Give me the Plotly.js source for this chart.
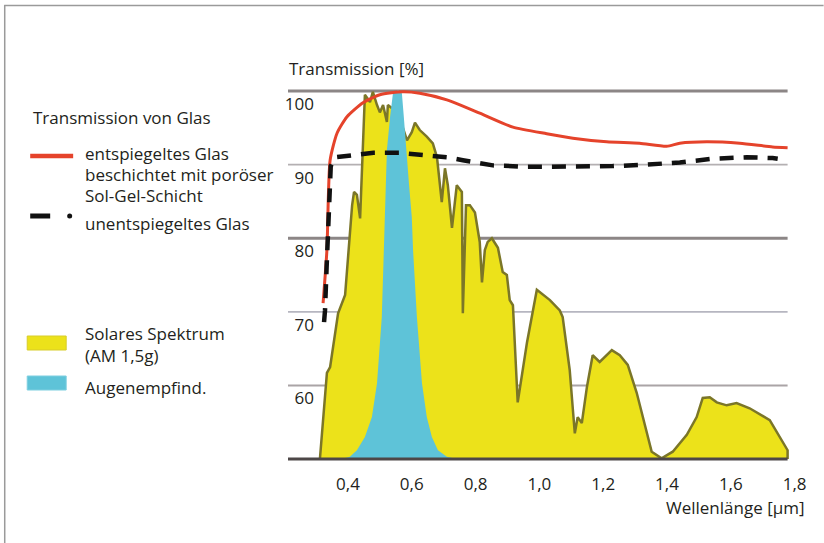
<!DOCTYPE html>
<html>
<head>
<meta charset="utf-8">
<script src="https://cdn.plot.ly/plotly-3.0.1.min.js"></script>
<style>html,body{margin:0;padding:0;background:#fff;}#chart{width:824px;height:543px;}</style>
</head>
<body>
<div id="chart"></div>
<script>
// ---------- data ----------
const solarWavelength = [0.312,0.334,0.344,0.369,0.391,0.397,0.406,0.413,0.419,0.428,0.438,0.447,0.453,0.469,0.478,0.491,0.500,0.510,0.522,0.525,0.557,0.585,0.600,0.610,0.625,0.647,0.666,0.679,0.694,0.704,0.713,0.726,0.741,0.757,0.760,0.770,0.782,0.798,0.813,0.820,0.829,0.838,0.851,0.870,0.885,0.898,0.907,0.917,0.932,0.961,0.992,1.033,1.064,1.073,1.095,1.105,1.111,1.120,1.133,1.149,1.167,1.189,1.227,1.252,1.277,1.305,1.336,1.352,1.383,1.418,1.462,1.493,1.512,1.534,1.556,1.587,1.618,1.659,1.722,1.753,1.778,1.778];
const solarSpectrum   = [50,61.7,62.5,69.8,72.3,75.7,81.8,84.5,86.3,85.9,82.7,91.7,99.5,98.5,99.9,98.1,97.1,98.1,95.8,98.1,97.0,93.3,94.4,95.7,94.7,93.8,92.9,91.0,84.9,89.5,87.2,81.4,87.2,86.3,69.8,84.5,84.5,83.5,79.5,74.0,78.4,79.5,80.0,78.7,75.4,75.0,71.6,70.9,57.7,65.8,73.0,71.6,70.2,69.3,62.1,56.7,53.5,55.7,54.9,59.8,64.1,63.2,64.8,64.1,62.8,59.0,53.5,51.0,50.1,51.0,53.3,55.7,58.3,58.4,57.7,57.3,57.6,56.9,55.3,53.0,51.2,50];

const eyeWavelength = [0.38,0.406,0.428,0.453,0.475,0.491,0.506,0.513,0.516,0.519,0.522,0.532,0.541,0.557,0.569,0.575,0.582,0.591,0.600,0.604,0.616,0.632,0.647,0.663,0.682,0.710,0.74];
const eyeSensitivity = [50,50.3,51.2,53.0,55.7,60.3,69.3,78.4,82.9,87.5,92.0,96.5,99.7,100.1,99.7,96.5,92.0,87.5,82.9,78.4,69.3,60.3,55.7,53.0,51.2,50.3,50];

const arWavelength = [0.322,0.334,0.344,0.366,0.397,0.447,0.500,0.572,0.625,0.710,0.813,0.917,1.023,1.105,1.211,1.314,1.399,1.440,1.524,1.628,1.731,1.778];
const arTransmission = [71.2,78.4,90.6,94.3,96.5,98.4,99.5,99.9,99.7,98.8,97.0,95.1,94.2,93.6,93.1,92.9,92.5,92.9,93.1,92.9,92.4,92.3];

const glassWavelength = [0.325,0.328,0.333,0.340,0.346,0.360,0.400,0.480,0.560,0.620,0.710,0.760,0.854,0.961,1.055,1.158,1.230,1.336,1.440,1.543,1.650,1.731,1.747];
const glassTransmission = [68.6,70.2,76.0,86.0,89.8,91.0,91.2,91.6,91.6,91.4,91.0,90.6,89.9,89.7,89.7,89.7,89.8,90.0,90.3,90.8,91.0,90.9,90.8];

const xTickVals = [0.4,0.6,0.8,1.0,1.2,1.4,1.6,1.8];
const xTickText = ['0,4','0,6','0,8','1,0','1,2','1,4','1,6','1,8'];
const yTickVals = [60,70,80,90,100];
const yTickText = ['60','70','80','90','100'];
const baselineValue = 50;

// ---------- layout helpers ----------
const W = 824, H = 543;
const M = {l:288, r:22.6, t:80, b:81};
const PW = W - M.l - M.r, PH = H - M.t - M.b;
const px = v => (v - M.l) / PW;
const py = v => 1 - (v - M.t) / PH;

const FONT = 'Open Sans, Noto Sans, sans-serif';
const TXT = '#231f20';
const YELLOW = '#ece21a', OLIVE = '#7b7628', BLUE = '#5ec3d8', RED = '#e5432b';

const traces = [
  {x: solarWavelength, y: solarSpectrum, type:'scatter', mode:'lines', fill:'toself',
   fillcolor: YELLOW, line:{color: OLIVE, width:2.5}, hoverinfo:'skip'},
  {x: eyeWavelength, y: eyeSensitivity, type:'scatter', mode:'lines', fill:'toself',
   fillcolor: BLUE, line:{color: BLUE, width:0}, hoverinfo:'skip'},
  {x: arWavelength, y: arTransmission, type:'scatter', mode:'lines',
   line:{color: RED, width:3, shape:'spline', smoothing:0.6}, hoverinfo:'skip'},
  {x: glassWavelength, y: glassTransmission, type:'scatter', mode:'lines',
   line:{color:'#111', width:4.5, dash:'14px,10px'}, hoverinfo:'skip'}
];

const xStart = 0.212, xEnd = 1.778;
const shapes = [];
const gridStyle = {100:{w:3,c:'#8c8686'},90:{w:1.8,c:'#b4b0b2'},80:{w:3,c:'#8c8686'},70:{w:1.8,c:'#b6b6c0'},60:{w:2,c:'#aaa4a6'}};
yTickVals.forEach(v => {
  shapes.push({type:'line', xref:'x', yref:'y', x0:xStart, x1:xEnd, y0:v, y1:v,
    layer:'below', line:{color:gridStyle[v].c, width:gridStyle[v].w}});
});
shapes.push({type:'line', xref:'x', yref:'y', x0:xStart, x1:xEnd, y0:baselineValue, y1:baselineValue,
  layer:'above', line:{color:'#4d4747', width:3}});

// frame
shapes.push({type:'line', xref:'paper', yref:'paper', x0:px(4.5), x1:px(4.5), y0:py(5), y1:py(543), line:{color:'#9a9a9a', width:1.5}});
shapes.push({type:'line', xref:'paper', yref:'paper', x0:px(4), x1:px(824), y0:py(5.5), y1:py(5.5), line:{color:'#9a9a9a', width:1.5}});

// legend symbols
shapes.push({type:'line', xref:'paper', yref:'paper', x0:px(30), x1:px(73), y0:py(156), y1:py(156), line:{color:RED, width:4.5}});
shapes.push({type:'line', xref:'paper', yref:'paper', x0:px(30), x1:px(50), y0:py(216), y1:py(216), line:{color:'#111', width:5}});
shapes.push({type:'circle', xref:'paper', yref:'paper', x0:px(67), x1:px(72), y0:py(213.5), y1:py(218.5), fillcolor:'#111', line:{width:0}});
shapes.push({type:'rect', xref:'paper', yref:'paper', x0:px(27), x1:px(66), y0:py(336), y1:py(350), fillcolor:YELLOW, line:{color:'#d8cd2a', width:1}});
shapes.push({type:'rect', xref:'paper', yref:'paper', x0:px(27), x1:px(66), y0:py(376), y1:py(390), fillcolor:BLUE, line:{color:'#7fcfe0', width:1}});

function label(text, x, y, anchor) {
  return {text: text, xref:'paper', yref:'paper', x:px(x), y:py(y), xanchor: anchor || 'left', yanchor:'middle',
    showarrow:false, font:{family:FONT, size:17, color:TXT}};
}
const annotations = [
  label('Transmission von Glas', 31, 118),
  label('entspiegeltes Glas', 83, 153),
  label('beschichtet mit poröser', 83, 174),
  label('Sol-Gel-Schicht', 83, 195),
  label('unentspiegeltes Glas', 83, 223),
  label('Solares Spektrum', 83, 333),
  label('(AM 1,5g)', 83, 355),
  label('Augenempfind.', 83, 387),
  label('Transmission [%]', 287, 68),
  label('Wellenlänge [µm]', 807, 507, 'right')
];

const layout = {
  width: W, height: H, margin: M,
  paper_bgcolor:'#fff', plot_bgcolor:'rgba(0,0,0,0)',
  showlegend:false,
  xaxis:{range:[xStart, 1.82], showgrid:false, zeroline:false, showline:false, ticks:'',
    tickvals:xTickVals, ticktext:xTickText, ticklabelstandoff:10,
    tickfont:{family:FONT, size:17, color:TXT}, fixedrange:true},
  yaxis:{range:[49.6, 101.5], showgrid:false, zeroline:false, showline:false, ticks:'',
    anchor:'free', position:px(316), tickvals:yTickVals, ticktext:yTickText,
    ticklabelshift:13, ticklabelstandoff:2,
    tickfont:{family:FONT, size:17, color:TXT}, fixedrange:true},
  shapes: shapes,
  annotations: annotations
};

Plotly.newPlot('chart', traces, layout, {staticPlot:true, displayModeBar:false});
</script>
</body>
</html>
